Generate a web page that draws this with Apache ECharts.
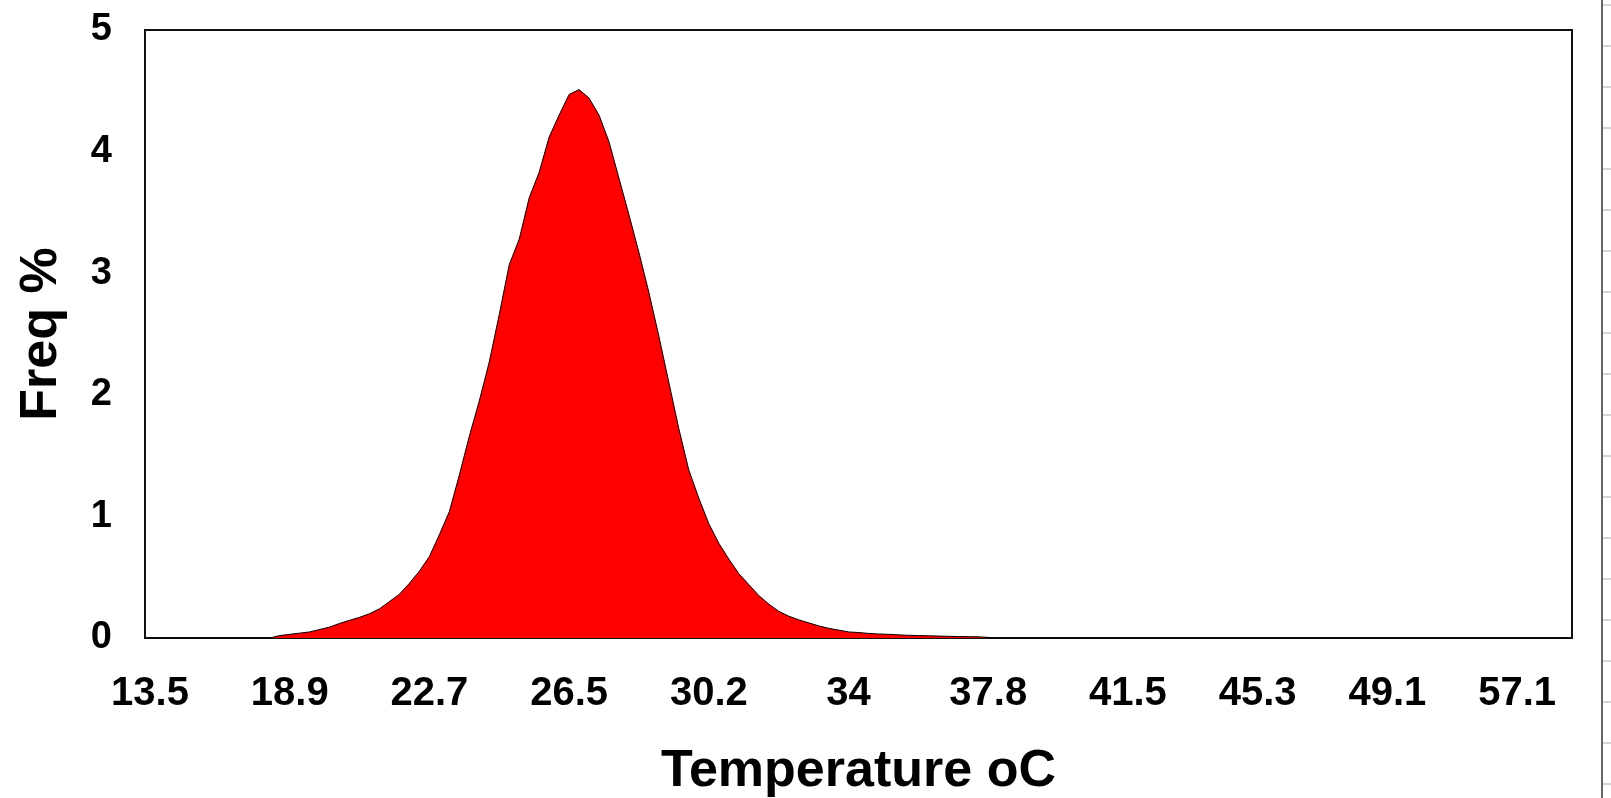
<!DOCTYPE html>
<html>
<head>
<meta charset="utf-8">
<title>Freq % vs Temperature</title>
<script src="https://cdn.jsdelivr.net/npm/echarts@6/dist/echarts.min.js"></script>
<style>
  html, body { margin: 0; padding: 0; background: #fff; }
  #chart { width: 1611px; height: 798px; }
</style>
</head>
<body>
<div id="chart"></div>
<script>
// ---- data ----
const categoryCount = 143;
const tickLabels = ['13.5', '18.9', '22.7', '26.5', '30.2', '34', '37.8', '41.5', '45.3', '49.1', '57.1'];
const tickIndexes = [0, 14, 28, 42, 56, 70, 84, 98, 111, 124, 137];
const yTicks = [0, 1, 2, 3, 4, 5];
const freq = [
  0, 0, 0, 0, 0, 0, 0, 0, 0, 0, 0, 0, 0,
  0.02, 0.03, 0.04, 0.05, 0.07, 0.09, 0.12, 0.145, 0.17, 0.20,
  0.24, 0.30, 0.36, 0.45, 0.55, 0.67, 0.85, 1.04, 1.34, 1.66,
  1.95, 2.27, 2.66, 3.07, 3.28, 3.62, 3.83, 4.12, 4.30, 4.47,
  4.51, 4.44, 4.30, 4.08, 3.78, 3.48, 3.17, 2.84, 2.48, 2.10,
  1.72, 1.38, 1.15, 0.94, 0.78, 0.65, 0.53, 0.44, 0.35, 0.28,
  0.22, 0.18, 0.15, 0.125, 0.10, 0.08, 0.065, 0.05, 0.045, 0.038,
  0.033, 0.03, 0.026, 0.022, 0.02, 0.018, 0.016, 0.014, 0.012, 0.011,
  0.01, 0.005,
  0, 0, 0, 0, 0, 0, 0, 0, 0, 0, 0, 0, 0, 0, 0, 0, 0, 0, 0, 0,
  0, 0, 0, 0, 0, 0, 0, 0, 0, 0, 0, 0, 0, 0, 0, 0, 0, 0, 0, 0,
  0, 0, 0, 0, 0, 0, 0, 0, 0, 0, 0, 0, 0, 0, 0, 0, 0, 0
];

// ---- build category axis from tick labels ----
const labelAt = {};
tickIndexes.forEach((idx, k) => { labelAt[idx] = tickLabels[k]; });
const categories = [];
for (let i = 0; i < categoryCount; i++) {
  categories.push(labelAt[i] !== undefined ? labelAt[i] : 'c' + i);
}

const FONT = "'Liberation Sans', Arial, sans-serif";

// decoration at the far right (edge of a neighbouring panel)
const deco = [{
  type: 'line', shape: { x1: 1602, y1: 0, x2: 1602, y2: 798 },
  style: { stroke: '#333', lineWidth: 1.5 }, silent: true
}];
for (let y = 5; y < 798; y += 41) {
  deco.push({ type: 'line', shape: { x1: 1603, y1: y, x2: 1611, y2: y },
    style: { stroke: '#aaa', lineWidth: 1 }, silent: true });
}

const chart = echarts.init(document.getElementById('chart'), null, { renderer: 'canvas' });
chart.setOption({
  animation: false,
  backgroundColor: '#fff',
  grid: {
    left: 145, top: 30, right: 39, bottom: 160,
    containLabel: false,
    outerBoundsMode: 'none',
    show: true, borderColor: '#111', borderWidth: 2, backgroundColor: 'transparent'
  },
  xAxis: {
    type: 'category',
    data: categories,
    boundaryGap: true,
    name: 'Temperature oC',
    nameLocation: 'middle',
    nameGap: 108,
    nameTextStyle: { fontFamily: FONT, fontSize: 52, fontWeight: 'bold', color: '#000' },
    axisLine: { show: true, lineStyle: { color: '#111', width: 2 } },
    axisTick: { show: false },
    splitLine: { show: false },
    axisLabel: {
      interval: (index) => labelAt[index] !== undefined,
      margin: 36,
      fontFamily: FONT, fontSize: 40, fontWeight: 'bold', color: '#000'
    }
  },
  yAxis: {
    type: 'value',
    min: yTicks[0], max: yTicks[yTicks.length - 1], interval: 1,
    name: 'Freq %',
    nameLocation: 'middle',
    nameGap: 77,
    nameTextStyle: { fontFamily: FONT, fontSize: 52, fontWeight: 'bold', color: '#000' },
    axisLine: { show: true, lineStyle: { color: '#111', width: 2 } },
    axisTick: { show: false },
    splitLine: { show: false },
    axisLabel: {
      margin: 33,
      fontFamily: FONT, fontSize: 38, fontWeight: 'bold', color: '#000'
    }
  },
  series: [{
    type: 'line',
    data: freq,
    showSymbol: false,
    symbol: 'none',
    smooth: false,
    lineStyle: { color: '#000', width: 1 },
    areaStyle: { color: '#ff0000', opacity: 1 },
    z: 2
  }],
  graphic: deco
});
</script>
</body>
</html>
